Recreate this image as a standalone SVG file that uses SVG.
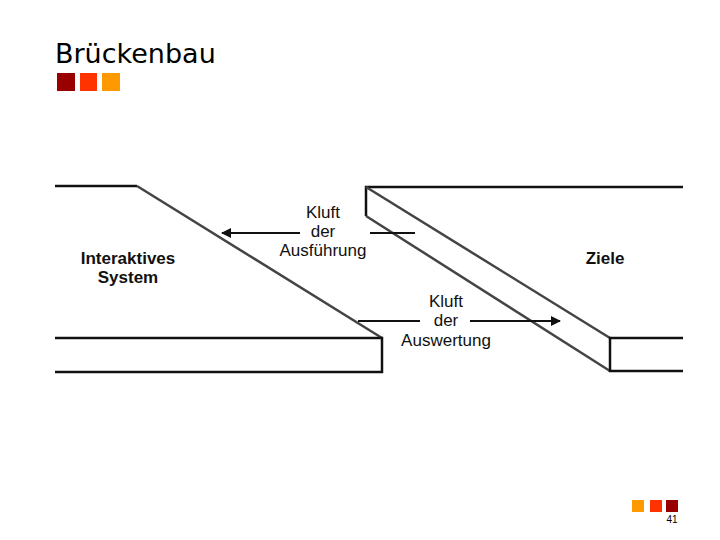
<svg xmlns="http://www.w3.org/2000/svg" width="720" height="540" viewBox="0 0 720 540">
<defs>
<style>
.edge{fill:none;stroke:#111;stroke-width:2.5}
.diag{fill:none;stroke:#444;stroke-width:2.5}
.lbl{font-family:"Liberation Sans",Arial,sans-serif;font-size:17px;fill:#111;text-anchor:middle}
.bold{font-weight:bold}
.arr{fill:none;stroke:#111;stroke-width:2}
</style>
<marker id="ah" viewBox="0 0 10 10" refX="9" refY="5" markerWidth="10" markerHeight="10" markerUnits="userSpaceOnUse" orient="auto">
<path d="M0,0 L10,5 L0,10 Z" fill="#111"/>
</marker>
</defs>
<rect width="720" height="540" fill="#fff"/>
<g id="title">
<text x="55" y="63" font-family="'DejaVu Sans',Verdana,sans-serif" font-size="27" fill="#000">Brückenbau</text>
<rect x="57" y="73" width="18" height="18" fill="#990000"/>
<rect x="80" y="73" width="17" height="18" fill="#ff3300"/>
<rect x="102" y="73" width="18" height="18" fill="#ff9900"/>
</g>
<g id="left-bank">
<polyline class="edge" points="55,186 137,186"/>
<line class="diag" x1="137" y1="186" x2="382" y2="338"/>
<polyline class="edge" points="55,338 382,338 382,372 55,372"/>
<text class="lbl bold" x="128" y="264">Interaktives</text>
<text class="lbl bold" x="128" y="283">System</text>
</g>
<g id="right-bank">
<polyline class="edge" points="683,187 366,187 366,216"/>
<line class="diag" x1="366" y1="187" x2="610" y2="338"/>
<line class="diag" x1="366" y1="216" x2="610" y2="371"/>
<polyline class="edge" points="683,338 610,338 610,371 683,371"/>
<text class="lbl bold" x="605" y="264">Ziele</text>
</g>
<g id="connectors">
<line class="arr" x1="300" y1="233" x2="222" y2="233" marker-end="url(#ah)"/>
<line class="arr" x1="370" y1="233" x2="415" y2="233"/>
<line class="arr" x1="358" y1="321" x2="420" y2="321"/>
<line class="arr" x1="470" y1="321" x2="560" y2="321" marker-end="url(#ah)"/>
</g>
<g id="label-ausfuehrung">
<text class="lbl" x="323" y="218">Kluft</text>
<text class="lbl" x="323" y="237">der</text>
<text class="lbl" x="323" y="256">Ausführung</text>
</g>
<g id="label-auswertung">
<text class="lbl" x="446" y="307">Kluft</text>
<text class="lbl" x="446" y="326">der</text>
<text class="lbl" x="446" y="346">Auswertung</text>
</g>
<g id="footer">
<rect x="632" y="500" width="12" height="12" fill="#ff9900"/>
<rect x="650" y="500" width="12" height="12" fill="#ff3300"/>
<rect x="666" y="500" width="12" height="12" fill="#990000"/>
<text x="672" y="523" font-family="'Liberation Sans',Arial,sans-serif" font-size="10" fill="#000" text-anchor="middle">41</text>
</g>
</svg>
